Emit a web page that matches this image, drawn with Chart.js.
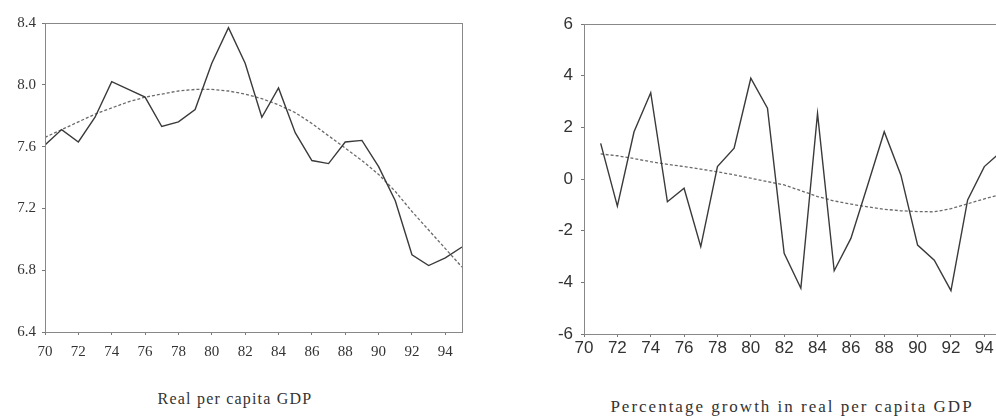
<!DOCTYPE html>
<html>
<head>
<meta charset="utf-8">
<script src="https://cdn.jsdelivr.net/npm/chart.js@4.4.1/dist/chart.umd.min.js"></script>
<style>
  html, body { margin: 0; padding: 0; background: #fff; overflow: hidden; width: 996px; height: 419px; }
  .panel { position: absolute; top: 0; }
  .cap { position: absolute; font-family: "Liberation Serif", serif; color: #333; white-space: nowrap; transform: translateX(-50%); }
</style>
</head>
<body>
<div class="panel" style="left:0;width:472px;height:368px"><canvas id="chartLevel"></canvas></div>
<div class="panel" style="left:520px;width:491px;height:364px"><canvas id="chartGrowth"></canvas></div>
<div class="cap" style="left:235px;top:390px;font-size:16px;letter-spacing:1.2px">Real per capita GDP</div>
<div class="cap" style="left:792px;top:397px;font-size:17px;letter-spacing:2px">Percentage growth in real per capita GDP</div>
<script>
// Années (70 = 1970)
const years = [70, 71, 72, 73, 74, 75, 76, 77, 78, 79, 80, 81, 82, 83, 84, 85, 86, 87, 88, 89, 90, 91, 92, 93, 94, 95];
const growthYears = years.slice(1);

// Log du PIB réel par habitant + tendance
const gdpLevel = [7.61, 7.71, 7.63, 7.79, 8.02, 7.97, 7.92, 7.73, 7.76, 7.84, 8.14, 8.37, 8.14, 7.79, 7.98, 7.69, 7.51, 7.49, 7.63, 7.64, 7.47, 7.25, 6.90, 6.83, 6.88, 6.95];
const gdpTrend = [7.66, 7.71, 7.76, 7.81, 7.85, 7.89, 7.92, 7.94, 7.96, 7.97, 7.97, 7.96, 7.94, 7.91, 7.87, 7.82, 7.75, 7.67, 7.59, 7.51, 7.42, 7.31, 7.18, 7.06, 6.94, 6.82];

// Croissance (%) + tendance
const growth = [1.38, -1.05, 1.83, 3.34, -0.88, -0.36, -2.62, 0.48, 1.19, 3.90, 2.74, -2.88, -4.23, 2.54, -3.55, -2.30, -0.25, 1.83, 0.15, -2.56, -3.14, -4.32, -0.81, 0.48, 1.05];
const growthTrend = [0.97, 0.90, 0.79, 0.67, 0.57, 0.48, 0.38, 0.28, 0.16, 0.03, -0.10, -0.23, -0.45, -0.68, -0.85, -0.97, -1.08, -1.17, -1.23, -1.26, -1.27, -1.15, -0.96, -0.77, -0.60];

const levelTicks = [6.4, 6.8, 7.2, 7.6, 8.0, 8.4];
const growthTicks = [-6, -4, -2, 0, 2, 4, 6];

function toPoints(xs, ys) {
    return xs.map((x, i) => ({ x: x, y: ys[i] }));
}

function makeChart(el, cfg) {
    const tickFont = { family: cfg.fontFamily, size: cfg.fontSize };
    return new Chart(el, {
        type: "line",
        data: {
            datasets: [
                {
                    data: toPoints(cfg.xs, cfg.values),
                    borderColor: "#3a3a3a",
                    borderWidth: 1.4,
                    pointRadius: 0,
                    tension: 0,
                },
                {
                    data: toPoints(cfg.xs, cfg.trend),
                    borderColor: "#6a6a6a",
                    borderWidth: 1.3,
                    borderDash: [3, 2],
                    pointRadius: 0,
                    tension: 0,
                },
            ],
        },
        options: {
            responsive: true,
            maintainAspectRatio: false,
            animation: false,
            layout: { padding: { top: cfg.top, right: cfg.right, left: 0, bottom: 0 } },
            plugins: { legend: { display: false }, tooltip: { enabled: false } },
            scales: {
                x: {
                    type: "linear",
                    min: 70,
                    max: 95,
                    afterBuildTicks: (s) => { s.ticks = years.filter((y) => y % 2 === 0 && y < 95).map((v) => ({ value: v })); },
                    ticks: { color: "#333", font: tickFont, padding: cfg.xPad, autoSkip: false, maxRotation: 0 },
                    grid: { drawOnChartArea: false, drawTicks: true, tickLength: 3, color: "#777" },
                    border: { color: "#777", width: 1 },
                    afterFit: (s) => { s.height = cfg.xHeight; },
                },
                y: {
                    min: cfg.ticks[0],
                    max: cfg.ticks[cfg.ticks.length - 1],
                    afterBuildTicks: (s) => { s.ticks = cfg.ticks.map((v) => ({ value: v })); },
                    ticks: { color: "#333", font: tickFont, padding: cfg.yPad, callback: cfg.fmt },
                    grid: { drawOnChartArea: false, drawTicks: true, tickLength: 3, color: "#777" },
                    border: { color: "#777", width: 1 },
                    afterFit: (s) => { s.width = cfg.yWidth; },
                },
            },
        },
        plugins: [{
            id: "frame",
            afterDraw(chart) {
                if (!cfg.frame) return;
                const a = chart.chartArea, c = chart.ctx;
                c.save();
                c.strokeStyle = "#888";
                c.lineWidth = 1;
                c.strokeRect(a.left + 0.5, a.top + 0.5, a.right - a.left, a.bottom - a.top);
                c.restore();
            },
        }],
    });
}

makeChart(document.getElementById("chartLevel"), {
    xs: years, values: gdpLevel, trend: gdpTrend, ticks: levelTicks,
    fmt: (v) => v.toFixed(1), fontFamily: "Liberation Serif", fontSize: 15,
    top: 23, right: 10, xHeight: 36, yWidth: 45, yPad: 6, xPad: 8, frame: true,
});

makeChart(document.getElementById("chartGrowth"), {
    xs: growthYears, values: growth, trend: growthTrend, ticks: growthTicks,
    fmt: (v) => String(v), fontFamily: "Liberation Sans", fontSize: 17,
    top: 24, right: 10, xHeight: 30, yWidth: 64, yPad: 8, xPad: 1, frame: true,
});
</script>
</body>
</html>
